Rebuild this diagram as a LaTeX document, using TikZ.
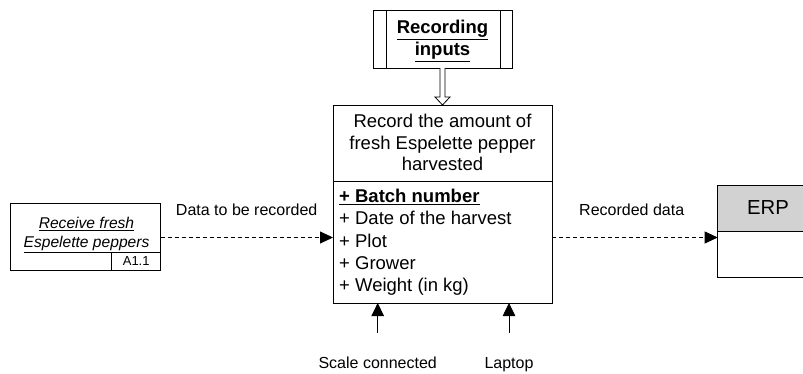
\documentclass[tikz,border=0pt]{standalone}
\usepackage{fontspec}
\setmainfont{Liberation Sans}
\usetikzlibrary{arrows.meta,calc}
\begin{document}
\begin{tikzpicture}[x=1pt,y=-1pt,
  box/.style={draw=black,line width=0.8pt,inner sep=0pt,outer sep=0pt},
  txt/.style={inner sep=0pt,anchor=base,font=\fontsize{18.5}{21.7}\selectfont},
  lbl/.style={inner sep=0pt,anchor=base,font=\fontsize{16}{19}\selectfont},
  flow/.style={draw=black,line width=0.8pt,dash pattern=on 4pt off 3pt,-{Triangle[length=13pt,width=12pt]}},
  mech/.style={draw=black,line width=0.8pt,-{Triangle[length=13pt,width=12.5pt]}}]
\path[use as bounding box] (0,0) rectangle (803,374);
\clip (0,0) rectangle (803,374);
% Recording inputs box
\node[box,minimum width=139pt,minimum height=57.3pt] (inp) at (442.5,39.35) {};
\draw[line width=0.8pt] ($(inp.north west)+(13,0)$) -- ($(inp.south west)+(13,0)$);
\draw[line width=0.8pt] ($(inp.north east)+(-12,0)$) -- ($(inp.south east)+(-12,0)$);
\node[txt,font=\fontsize{18.5}{21.7}\selectfont\bfseries] (inpA) at (442.5,33.5) {\underline{Recording}};
\node[txt,font=\fontsize{18.5}{21.7}\selectfont\bfseries] (inpB) at (442.5,56) {\underline{inputs}};
% main activity
\node[box,minimum width=219pt,minimum height=198pt] (main) at (442.5,204) {};
\coordinate (dv) at (0,181);
\draw[line width=0.8pt] (main.west |- dv) -- (main.east |- dv);
\node[txt] (t1) at (442.5,127.5) {Record the amount of};
\node[txt] (t2) at (442.5,149.2) {fresh Espelette pepper};
\node[txt] (t3) at (442.5,170.9) {harvested};
\node[txt,anchor=base west,font=\fontsize{18.5}{21.7}\selectfont\bfseries] (a1) at (339,202.5) {\underline{+ Batch number}};
\node[txt,anchor=base west] (a2) at (339,224.8) {+ Date of the harvest};
\node[txt,anchor=base west] (a3) at (339,247.1) {+ Plot};
\node[txt,anchor=base west] (a4) at (339,269.4) {+ Grower};
\node[txt,anchor=base west] (a5) at (339,291.7) {+ Weight (in kg)};
% double arrow
\draw[line width=0.8pt,fill=white] ($(inp.south)+(-2.5,0)$) -- ($(main.north)+(-2.5,-8)$)
  -- ($(main.north)+(-7.5,-8)$) -- (main.north) -- ($(main.north)+(7.5,-8)$)
  -- ($(main.north)+(2.5,-8)$) -- ($(inp.south)+(2.5,0)$);
% source box
\node[box,minimum width=150.7pt,minimum height=67pt] (src) at (85.35,236.5) {};
\node[box,minimum width=49pt,minimum height=18pt,anchor=south east,font=\fontsize{13}{15}\selectfont] (ref) at (src.south east) {A1.1};
\node[lbl,font=\fontsize{15.6}{19}\selectfont\itshape] (s1) at (86.5,228.3) {\underline{Receive fresh}};
\node[lbl,font=\fontsize{15.6}{19}\selectfont\itshape] (s2) at (86.5,247.7) {\underline{Espelette peppers}};
% ERP
\node[box,fill=gray!35,minimum width=101pt,minimum height=46.7pt,anchor=north west] (erpT) at (717.7,185) {};
\node[box,minimum width=101pt,minimum height=45.6pt,anchor=north west] (erpB) at (erpT.south west) {};
\node[inner sep=0pt,anchor=base,font=\fontsize{20.3}{24}\selectfont] (erp) at (768,214.3) {ERP};
% flows
\coordinate (lvl) at (0,237.5);
\draw[flow] (src.east |- lvl) -- (main.west |- lvl);
\draw[flow] (main.east |- lvl) -- (erpB.west |- lvl);
\node[lbl] (l1) at (246.7,215) {Data to be recorded};
\node[lbl] (l2) at (631.7,216) {Recorded data};
% mechanisms
\node[lbl] (scale) at (377.7,368.3) {Scale connected};
\node[lbl] (lap) at (509,368.3) {Laptop};
\coordinate (m1) at (377.7,333);
\coordinate (m2) at (509,333);
\draw[mech] (m1) -- (m1 |- main.south);
\draw[mech] (m2) -- (m2 |- main.south);
\end{tikzpicture}
\end{document}
